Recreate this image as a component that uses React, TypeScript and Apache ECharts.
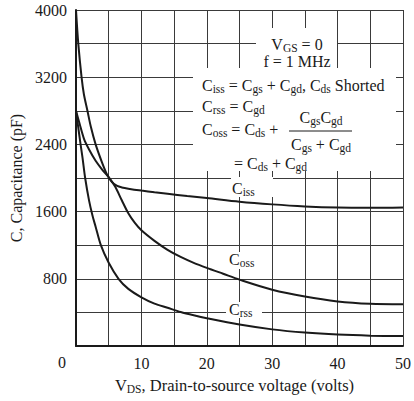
import React, { useEffect, useRef } from "react";
import * as echarts from "echarts";

// ---- data ----
const xTickLabels = [10, 20, 30, 40, 50];
const yTickLabels = [800, 1600, 2400, 3200, 4000];

const cissData: [number, number][] = [
  [0, 4000], [0.35, 3600], [0.85, 3200], [1.2, 3000], [1.75, 2800], [2.3, 2600], [3, 2400],
  [4, 2180], [4.75, 2040], [5.5, 1950], [6.3, 1905], [7, 1888], [8, 1873], [10, 1850],
  [12, 1830], [14, 1812], [17, 1786], [20, 1762], [25, 1718], [30, 1686], [35, 1662],
  [40, 1648], [45, 1645], [50, 1650],
];
const cossData: [number, number][] = [
  [0, 2800], [0.5, 2660], [1.25, 2460], [2, 2340], [3, 2205], [4, 2100], [5, 2010],
  [6, 1895], [7, 1735], [8, 1580], [9, 1465], [10, 1378], [12, 1252], [14, 1145],
  [16, 1060], [18, 990], [20, 930], [22.5, 860], [25, 790], [30, 670], [35, 588],
  [40, 530], [45, 502], [50, 496],
];
const crssData: [number, number][] = [
  [0, 2800], [0.35, 2600], [0.7, 2400], [1, 2240], [1.4, 2000], [2, 1730], [2.5, 1560],
  [3, 1420], [3.8, 1200], [5, 990], [6.5, 800], [8, 680], [10, 580], [12, 505],
  [14, 455], [16, 405], [18, 365], [20, 330], [25, 255], [30, 198], [35, 160],
  [40, 136], [45, 123], [50, 118],
];

const FONT = "'Liberation Serif', 'DejaVu Serif', serif";
const INK = "#1a1a1a";
const GRID = "#3a3a3a";

const subStyle = { fontSize: 11.5, fontFamily: FONT, color: INK, padding: [7, 0, 0, 0] };
const mainStyle = { fontSize: 16, fontFamily: FONT, color: INK };

function txt(text: string, x: number, y: number, align: string = "left") {
  return {
    type: "text",
    x,
    y,
    z: 10,
    style: {
      text,
      align,
      verticalAlign: "middle",
      fontSize: 16,
      fontFamily: FONT,
      fill: INK,
      rich: { s: subStyle, m: mainStyle },
    },
  };
}

function whiteRect(x: number, y: number, w: number, h: number) {
  return { type: "rect", z: 1, shape: { x, y, width: w, height: h }, style: { fill: "#ffffff" } };
}

export default function App() {
  const ref = useRef<HTMLDivElement>(null);
  useEffect(() => {
    if (!ref.current) return;
    document.body.style.margin = "0";
    const chart = echarts.init(ref.current, undefined, { renderer: "svg" });
    const lineSeries = (name: string, data: [number, number][]) => ({
      name,
      type: "line",
      data,
      showSymbol: false,
      smooth: 0.3,
      lineStyle: { color: INK, width: 2 },
      z: 3,
    });
    chart.setOption({
      animation: false,
      backgroundColor: "#ffffff",
      grid: { left: 74.5, right: 7, top: 10, bottom: 55 },
      xAxis: {
        type: "value",
        min: 0,
        max: 50,
        interval: 5,
        name: "V{s|DS}, Drain-to-source voltage (volts)",
        nameLocation: "middle",
        nameGap: 30,
        nameTextStyle: {
          fontSize: 16.5,
          fontFamily: FONT,
          color: INK,
          padding: [0, 10, 0, 0],
          rich: { s: { fontSize: 11.5, fontFamily: FONT, color: INK, padding: [7, 0, 0, 0] } },
        },
        axisLine: { show: true, lineStyle: { color: INK, width: 2 } },
        axisTick: { show: false },
        axisLabel: {
          margin: 9,
          fontSize: 16,
          fontFamily: FONT,
          color: INK,
          formatter: (v: number) => (xTickLabels.includes(v) ? String(v) : ""),
        },
        splitLine: { show: true, lineStyle: { color: GRID, width: 1 } },
      },
      yAxis: {
        type: "value",
        min: 0,
        max: 4000,
        interval: 400,
        name: "C, Capacitance (pF)",
        nameLocation: "middle",
        nameGap: 52,
        nameTextStyle: { fontSize: 16, fontFamily: FONT, color: INK },
        axisLine: { show: true, lineStyle: { color: INK, width: 2 } },
        axisTick: { show: false },
        axisLabel: {
          margin: 9,
          fontSize: 16,
          fontFamily: FONT,
          color: INK,
          formatter: (v: number) => (yTickLabels.includes(v) ? String(v) : ""),
        },
        splitLine: { show: true, lineStyle: { color: GRID, width: 1 } },
      },
      series: [
        lineSeries("Ciss", cissData),
        lineSeries("Coss", cossData),
        lineSeries("Crss", crssData),
      ],
      graphic: [
        whiteRect(256, 28, 81, 41),
        whiteRect(193, 68, 203, 103),
        whiteRect(231, 177, 42, 20),
        whiteRect(227, 252, 35, 17),
        whiteRect(226, 302, 36, 16),
        { type: "text", x: 62, y: 362, z: 10, style: { text: "0", align: "center", verticalAlign: "middle", fontSize: 16, fontFamily: FONT, fill: INK } },
        txt("V{s|GS} = 0", 297, 44, "center"),
        txt("f = 1 MHz", 297, 61, "center"),
        txt("C{s|iss} = C{s|gs} + C{s|gd}, C{s|ds} Shorted", 202, 85),
        txt("C{s|rss} = C{s|gd}", 202, 106),
        txt("C{s|oss} = C{s|ds} + ", 202, 129),
        txt("C{s|gs}C{s|gd}", 321, 117, "center"),
        { type: "line", z: 10, shape: { x1: 289, y1: 131, x2: 352, y2: 131 }, style: { stroke: INK, lineWidth: 1 } },
        txt("C{s|gs} + C{s|gd}", 321, 144, "center"),
        txt("= C{s|ds} + C{s|gd}", 234, 163),
        txt("C{s|iss}", 232, 188),
        txt("C{s|oss}", 229, 259),
        txt("C{s|rss}", 229, 309),
      ],
    });
    return () => chart.dispose();
  }, []);
  return <div ref={ref} style={{ width: 414, height: 401 }} />;
}
